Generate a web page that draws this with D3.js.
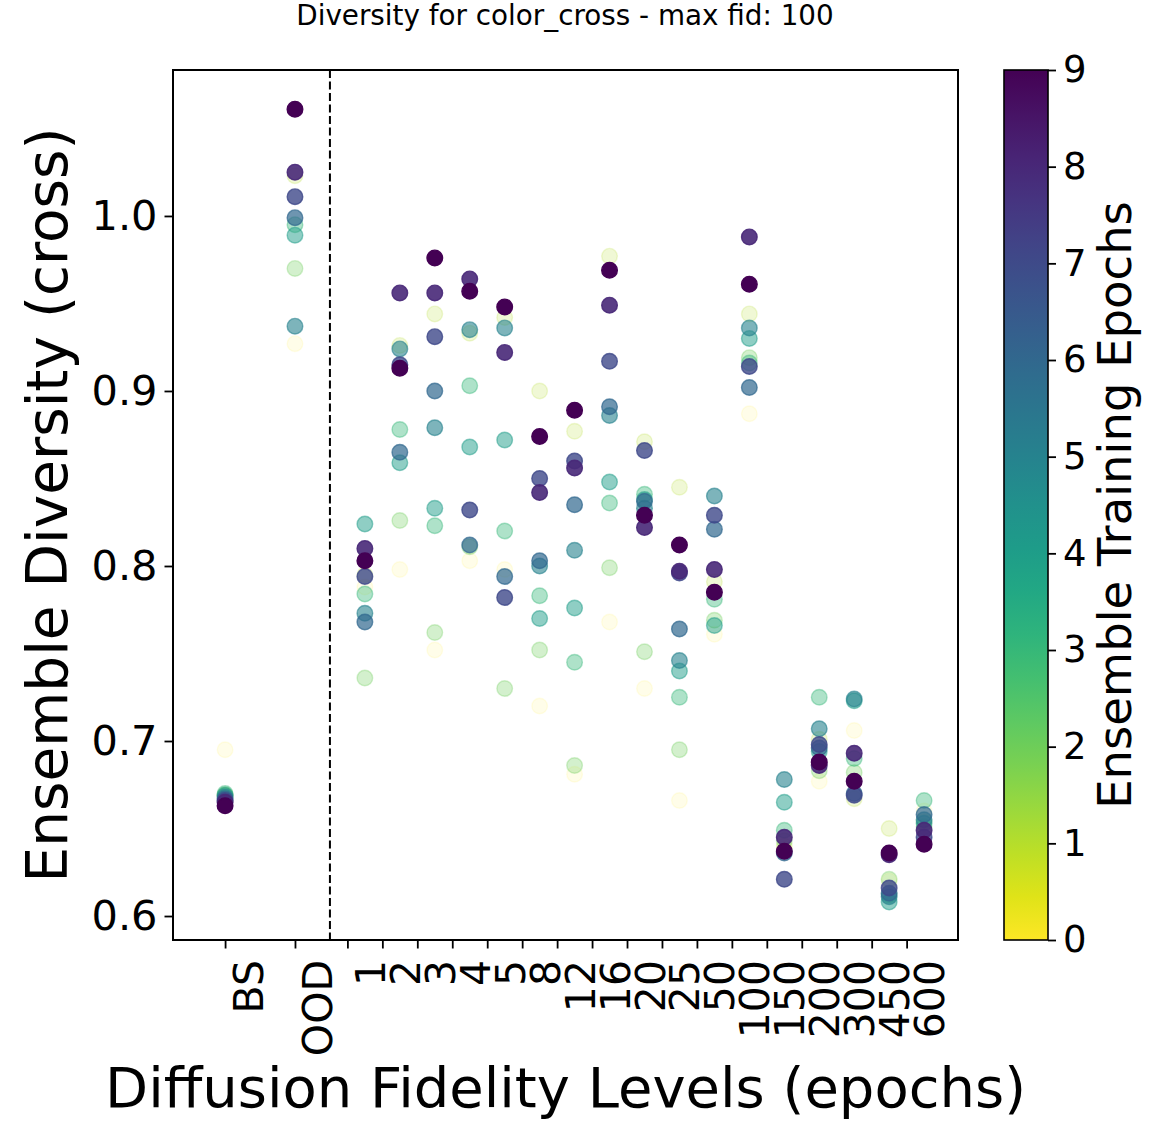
<!DOCTYPE html>
<html>
<head>
<meta charset="utf-8">
<script src="https://cdn.jsdelivr.net/npm/d3@7"></script>
<style>
  body { margin: 0; background: #fff; }
  svg { display: block; font-family: "DejaVu Sans", sans-serif; }
</style>
</head>
<body>
<div id="wrapper"></div>
<script>
// categories along the x axis
const baseLevels = ["BS", "OOD"]
const fidLevels = ["1", "2", "3", "4", "5", "8", "12", "16", "20", "25",
  "50", "100", "150", "200", "300", "450", "600"]
const epochs = [0, 1, 2, 3, 4, 5, 6, 7, 8, 9]

// diversity per ensemble training epoch, order: BS, OOD, then fidLevels
const divE0 = [0.695, 0.927, 0.788, 0.798, 0.752, 0.803, 0.798, 0.720, 0.681, 0.768, 0.730, 0.666, 0.761, 0.887, 0.638, 0.677, 0.706, 0.620, 0.660]
const divE1 = [0.669, 1.023, 0.795, 0.926, 0.944, 0.933, 0.942, 0.900, 0.877, 0.977, 0.871, 0.845, 0.791, 0.944, 0.640, 0.701, 0.667, 0.650, 0.654]
const divE2 = [0.669, 0.970, 0.736, 0.826, 0.762, 0.811, 0.730, 0.752, 0.686, 0.799, 0.751, 0.695, 0.769, 0.919, 0.643, 0.683, 0.682, 0.621, 0.651]
const divE3 = [0.670, 0.995, 0.784, 0.878, 0.823, 0.903, 0.820, 0.783, 0.745, 0.836, 0.841, 0.725, 0.781, 0.916, 0.649, 0.725, 0.690, 0.612, 0.666]
const divE4 = [0.669, 0.989, 0.824, 0.859, 0.833, 0.868, 0.872, 0.770, 0.776, 0.848, 0.838, 0.740, 0.766, 0.930, 0.665, 0.694, 0.723, 0.608, 0.653]
const divE5 = [0.668, 0.937, 0.773, 0.924, 0.879, 0.935, 0.936, 0.800, 0.809, 0.886, 0.833, 0.746, 0.840, 0.936, 0.678, 0.707, 0.724, 0.611, 0.655]
const divE6 = [0.667, 0.999, 0.768, 0.865, 0.900, 0.812, 0.794, 0.803, 0.835, 0.891, 0.837, 0.764, 0.821, 0.902, 0.636, 0.696, 0.670, 0.613, 0.658]
const divE7 = [0.666, 1.011, 0.794, 0.915, 0.931, 0.832, 0.782, 0.850, 0.860, 0.917, 0.866, 0.796, 0.829, 0.914, 0.621, 0.698, 0.669, 0.616, 0.645]
const divE8 = [0.665, 1.025, 0.810, 0.956, 0.956, 0.964, 0.922, 0.842, 0.856, 0.949, 0.822, 0.797, 0.798, 0.988, 0.645, 0.686, 0.693, 0.635, 0.649]
const divE9 = [0.663, 1.061, 0.803, 0.913, 0.976, 0.957, 0.948, 0.874, 0.889, 0.969, 0.829, 0.812, 0.785, 0.961, 0.637, 0.688, 0.677, 0.636, 0.641]

const yTicks = [0.6, 0.7, 0.8, 0.9, 1.0]
const cbarTicks = [0, 1, 2, 3, 4, 5, 6, 7, 8, 9]

const titleText = "Diversity for color_cross - max fid: 100"
const xLabel = "Diffusion Fidelity Levels (epochs)"
const yLabel = "Ensemble Diversity (cross)"
const cbarLabel = "Ensemble Training Epochs"


function drawChart() {
  const series = [divE0, divE1, divE2, divE3, divE4, divE5, divE6, divE7, divE8, divE9]
  const categories = baseLevels.concat(fidLevels)

  // BS at 0, OOD at 2, fidelity points at 4.. ; fidelity ticks sit half a step left
  const catPos = (c, i) => i < 2 ? i * 2 : i + 2
  const tickPos = (c, i) => i < 2 ? i * 2 : i + 1.5

  const dataset = []
  epochs.forEach(e => {
    categories.forEach((c, i) => {
      dataset.push({ epoch: e, cat: c, x: catPos(c, i), y: series[e][i] })
    })
  })

  let dimensions = {
    width: 1172,
    height: 1145,
    margin: { top: 70, right: 214, bottom: 205, left: 173 },
  }
  dimensions.boundedWidth = dimensions.width - dimensions.margin.left - dimensions.margin.right
  dimensions.boundedHeight = dimensions.height - dimensions.margin.top - dimensions.margin.bottom

  const wrapper = d3.select("#wrapper")
    .append("svg")
      .attr("width", dimensions.width)
      .attr("height", dimensions.height)

  const bounds = wrapper.append("g")
      .attr("transform", `translate(${dimensions.margin.left}, ${dimensions.margin.top})`)

  // scales
  const xScale = d3.scaleLinear()
    .domain([-1.49, 20.97])
    .range([0, dimensions.boundedWidth])

  const yScale = d3.scaleLinear()
    .domain([0.5863, 1.0834])
    .range([dimensions.boundedHeight, 0])

  const colorScale = d3.scaleSequential(t => d3.interpolateViridis(1 - t))
    .domain([0, 9])

  // separator between baselines and fidelity levels
  bounds.append("line")
      .attr("x1", xScale(3)).attr("x2", xScale(3))
      .attr("y1", 0).attr("y2", dimensions.boundedHeight)
      .attr("stroke", "black")
      .attr("stroke-width", 2)
      .attr("stroke-dasharray", "8,3.5")

  // points, later epochs on top
  bounds.selectAll("circle")
      .data(dataset)
    .join("circle")
      .attr("cx", d => xScale(d.x))
      .attr("cy", d => yScale(d.y))
      .attr("r", 7.8)
      .attr("fill", d => colorScale(d.epoch))
      .attr("fill-opacity", d => (d.epoch + 1) / 10)
      .attr("stroke", d => colorScale(d.epoch))
      .attr("stroke-opacity", d => (d.epoch + 1) / 10)
      .attr("stroke-width", 1.4)

  // axes
  const yAxisGenerator = d3.axisLeft(yScale)
    .tickValues(yTicks)
    .tickFormat(d3.format(".1f"))
    .tickSize(8.5)
    .tickPadding(7)
  const yAxis = bounds.append("g").call(yAxisGenerator)
  yAxis.select(".domain").remove()
  yAxis.selectAll("line").attr("stroke-width", 1.8)
  yAxis.selectAll("text")
      .attr("font-size", 41.5)
      .attr("font-family", "DejaVu Sans")
      .attr("fill", "black")

  const xTickValues = categories.map(tickPos)
  const xAxisGenerator = d3.axisBottom(xScale)
    .tickValues(xTickValues)
    .tickFormat((d, i) => categories[i])
    .tickSize(8.5)
  const xAxis = bounds.append("g")
      .attr("transform", `translate(0, ${dimensions.boundedHeight})`)
      .call(xAxisGenerator)
  xAxis.select(".domain").remove()
  xAxis.selectAll("line").attr("stroke-width", 1.8)
  xAxis.selectAll("text")
      .attr("y", 0)
      .attr("dy", 0)
      .attr("transform", "translate(37, 20) rotate(-90)")
      .attr("text-anchor", "end")
      .attr("font-size", 41)
      .attr("font-family", "DejaVu Sans")
      .attr("fill", "black")

  // frame
  bounds.append("rect")
      .attr("width", dimensions.boundedWidth)
      .attr("height", dimensions.boundedHeight)
      .attr("fill", "none")
      .attr("stroke", "black")
      .attr("stroke-width", 2)

  // labels
  wrapper.append("text")
      .attr("x", 565)
      .attr("y", 25)
      .attr("text-anchor", "middle")
      .attr("font-size", 27.8)
      .text(titleText)

  wrapper.append("text")
      .attr("x", dimensions.margin.left + dimensions.boundedWidth / 2)
      .attr("y", 1107)
      .attr("text-anchor", "middle")
      .attr("font-size", 56)
      .text(xLabel)

  wrapper.append("text")
      .attr("transform", `translate(67, ${dimensions.margin.top + dimensions.boundedHeight / 2}) rotate(-90)`)
      .attr("text-anchor", "middle")
      .attr("font-size", 56.5)
      .text(yLabel)

  // colorbar
  const cbar = { x: 1004, width: 44 }
  const defs = wrapper.append("defs")
  const grad = defs.append("linearGradient")
      .attr("id", "cbarGrad")
      .attr("x1", 0).attr("y1", 1).attr("x2", 0).attr("y2", 0)
  d3.range(0, 1.0001, 0.05).forEach(t => {
    grad.append("stop")
        .attr("offset", t)
        .attr("stop-color", colorScale(t * 9))
  })

  const cbarScale = d3.scaleLinear()
    .domain([0, 9])
    .range([dimensions.margin.top + dimensions.boundedHeight, dimensions.margin.top])

  wrapper.append("rect")
      .attr("x", cbar.x)
      .attr("y", dimensions.margin.top)
      .attr("width", cbar.width)
      .attr("height", dimensions.boundedHeight)
      .attr("fill", "url(#cbarGrad)")
      .attr("stroke", "black")
      .attr("stroke-width", 1.6)

  const cbarAxis = wrapper.append("g")
      .attr("transform", `translate(${cbar.x + cbar.width}, 0)`)
      .call(d3.axisRight(cbarScale).tickValues(cbarTicks).tickSize(8).tickPadding(7))
  cbarAxis.select(".domain").remove()
  cbarAxis.selectAll("line").attr("stroke-width", 1.8)
  cbarAxis.selectAll("text")
      .attr("font-size", 37)
      .attr("font-family", "DejaVu Sans")
      .attr("fill", "black")

  wrapper.append("text")
      .attr("transform", `translate(1131, ${dimensions.margin.top + dimensions.boundedHeight / 2}) rotate(-90)`)
      .attr("text-anchor", "middle")
      .attr("font-size", 46.5)
      .text(cbarLabel)
}

drawChart()
</script>
</body>
</html>
